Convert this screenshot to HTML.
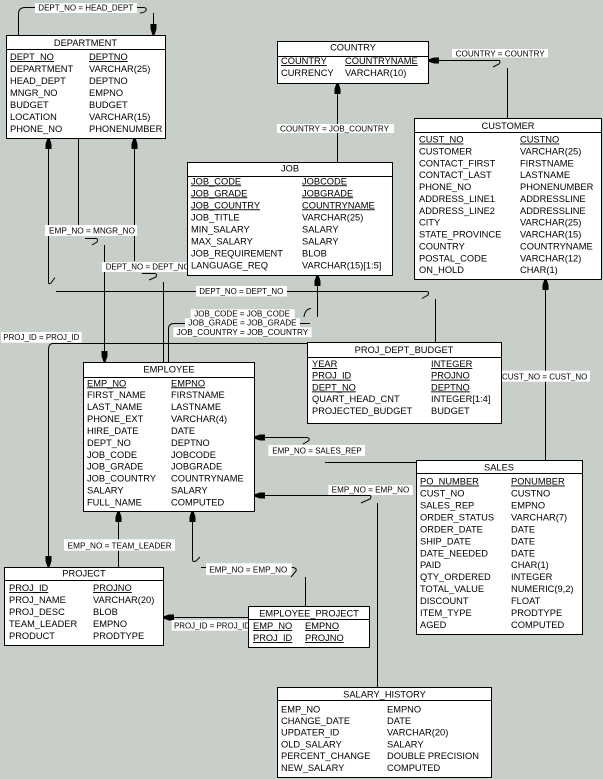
<!DOCTYPE html>
<html>
<head>
<meta charset="utf-8">
<style>
html,body{margin:0;padding:0;background:#c8cec8;}
svg{display:block;}
.t{font-family:"Liberation Sans",Arial,sans-serif;font-size:9.3px;fill:#000;}
.u{text-decoration:underline;}
.l{font-family:"Liberation Sans",Arial,sans-serif;font-size:8px;fill:#000;}
.ln{fill:none;stroke:#000;stroke-width:1;}
.bx{fill:#fff;stroke:#000;stroke-width:1;}
</style>
</head>
<body>
<svg width="603" height="779" viewBox="0 0 603 779" xmlns="http://www.w3.org/2000/svg">
<rect x="0" y="0" width="603" height="779" fill="#c8cec8"/>

<!-- connectors -->
<g class="ln">
<path d="M18.5,35 V14 Q18.5,7.5 25,7.5 H36"/>
<path d="M137,7.5 H144 Q147,8 146,10.5 Q144,13 140,13"/>
<path d="M153.5,13 V35"/>
<path d="M78.5,138 V226"/>
<path d="M85,238.5 H96 Q98.5,239 97,242 L92,245"/>
<path d="M104.5,245 V362"/>
<path d="M134.5,138 V261"/>
<path d="M142,273.5 H155 Q157.5,274 156,277 L149,280"/>
<path d="M163.5,282 V362"/>
<path d="M48.5,138 V282 Q48.5,285 51,283 L55,277.5"/>
<path d="M56,291.5 H427 Q429.5,292 428,295 L422,298.5"/>
<path d="M435.5,299 V342"/>
<path d="M337.5,83 V162"/>
<path d="M428,60.5 H499 Q501,61 499,64 L493,67"/>
<path d="M507.5,68 V118"/>
<path d="M317.5,275 V317"/>
<path d="M304,317 Q305,309 311,308.5"/>
<path d="M300,323.5 H310"/>
<path d="M185,323.5 H174 Q168.5,323.5 168.5,329 V362"/>
<path d="M545.5,279 V460"/>
<path d="M254,437.5 H307 Q310,438 309,440.5 L303,444"/>
<path d="M325,462.5 H416"/>
<path d="M254,495.5 H370 Q372,496 370,499 L361,503"/>
<path d="M377.5,503 V687"/>
<path d="M118.5,511 V567"/>
<path d="M192.5,511 V560 Q193,562.5 196,561 L200,557"/>
<path d="M201,567.5 H293 Q297,568 296,571 L291,577"/>
<path d="M305.5,577 V606"/>
<path d="M52,343.5 H307"/>
<path d="M53,343.5 Q48.5,343.5 48.5,350 V567"/>
<path d="M163,617.5 H248"/>
</g>

<!-- arrowheads -->
<g fill="#000">
<polygon points="150.5,24 156.5,24 156.5,29 154.5,35 152.5,35 150.5,29"/>
<polygon points="45.5,149 51.5,149 51.5,144 49.5,138 47.5,138 45.5,144"/>
<polygon points="131.5,149 137.5,149 137.5,144 135.5,138 133.5,138 131.5,144"/>
<polygon points="334.5,94 340.5,94 340.5,89 338.5,83 336.5,83 334.5,89"/>
<polygon points="439,57.5 439,63.5 434,63.5 428,61.5 428,59.5 434,57.5"/>
<polygon points="314.5,286 320.5,286 320.5,281 318.5,275 316.5,275 314.5,281"/>
<polygon points="542.5,290 548.5,290 548.5,285 546.5,279 544.5,279 542.5,285"/>
<polygon points="101.5,351 107.5,351 107.5,356 105.5,362 103.5,362 101.5,356"/>
<polygon points="265,434.5 265,440.5 260,440.5 254,438.5 254,436.5 260,434.5"/>
<polygon points="265,492.5 265,498.5 260,498.5 254,496.5 254,494.5 260,492.5"/>
<polygon points="115.5,522 121.5,522 121.5,517 119.5,511 117.5,511 115.5,517"/>
<polygon points="189.5,522 195.5,522 195.5,517 193.5,511 191.5,511 189.5,517"/>
<polygon points="45.5,556 51.5,556 51.5,561 49.5,567 47.5,567 45.5,561"/>
<polygon points="174,614.5 174,620.5 169,620.5 163,618.5 163,616.5 169,614.5"/>
</g>

<!-- labels -->
<g>
<rect x="35" y="3" width="102" height="10" fill="#fff"/>
<text class="l" x="38.3" y="10.5" textLength="95" lengthAdjust="spacingAndGlyphs">DEPT_NO = HEAD_DEPT</text>
<rect x="452" y="49" width="96" height="8.5" fill="#fff"/>
<text class="l" x="455.7" y="56.3" textLength="89" lengthAdjust="spacingAndGlyphs">COUNTRY = COUNTRY</text>
<rect x="277" y="124" width="117" height="9" fill="#fff"/>
<text class="l" x="280" y="131.3" textLength="109" lengthAdjust="spacingAndGlyphs">COUNTRY = JOB_COUNTRY</text>
<rect x="45" y="225" width="92" height="11" fill="#fff"/>
<text class="l" x="49" y="233.5" textLength="86" lengthAdjust="spacingAndGlyphs">EMP_NO = MNGR_NO</text>
<rect x="102" y="262" width="86" height="10" fill="#fff"/>
<text class="l" x="105.7" y="269.5" textLength="84" lengthAdjust="spacingAndGlyphs">DEPT_NO = DEPT_NO</text>
<rect x="196" y="286" width="91" height="10.5" fill="#fff"/>
<text class="l" x="199.3" y="294" textLength="84" lengthAdjust="spacingAndGlyphs">DEPT_NO = DEPT_NO</text>
<rect x="190.7" y="309.3" width="104" height="9" fill="#fff"/>
<text class="l" x="194.3" y="316.7" textLength="95.7" lengthAdjust="spacingAndGlyphs">JOB_CODE = JOB_CODE</text>
<rect x="185" y="318.3" width="115" height="9" fill="#fff"/>
<text class="l" x="188.3" y="325.7" textLength="108.3" lengthAdjust="spacingAndGlyphs">JOB_GRADE = JOB_GRADE</text>
<rect x="173.3" y="327.3" width="138.4" height="10" fill="#fff"/>
<text class="l" x="176.7" y="335" textLength="131.6" lengthAdjust="spacingAndGlyphs">JOB_COUNTRY = JOB_COUNTRY</text>
<rect x="1" y="332" width="80.7" height="10.7" fill="#fff"/>
<text class="l" x="3.3" y="340" textLength="76" lengthAdjust="spacingAndGlyphs">PROJ_ID = PROJ_ID</text>
<rect x="501" y="370.7" width="89" height="11" fill="#fff"/>
<text class="l" x="502" y="379.3" textLength="85.3" lengthAdjust="spacingAndGlyphs">CUST_NO = CUST_NO</text>
<rect x="268.3" y="445" width="96.7" height="11" fill="#fff"/>
<text class="l" x="272.3" y="453.3" textLength="89.4" lengthAdjust="spacingAndGlyphs">EMP_NO = SALES_REP</text>
<rect x="328.3" y="485" width="84.4" height="10" fill="#fff"/>
<text class="l" x="331.7" y="492.7" textLength="77.6" lengthAdjust="spacingAndGlyphs">EMP_NO = EMP_NO</text>
<rect x="64" y="539.3" width="111" height="11.4" fill="#fff"/>
<text class="l" x="67.7" y="548.3" textLength="104" lengthAdjust="spacingAndGlyphs">EMP_NO = TEAM_LEADER</text>
<rect x="206" y="563.3" width="85.7" height="11.7" fill="#fff"/>
<text class="l" x="209.3" y="572.7" textLength="78" lengthAdjust="spacingAndGlyphs">EMP_NO = EMP_NO</text>
<rect x="171.7" y="620" width="77.6" height="10.7" fill="#fff"/>
<text class="l" x="174" y="628.3" textLength="76" lengthAdjust="spacingAndGlyphs">PROJ_ID = PROJ_ID</text>
</g>

<!-- DEPARTMENT -->
<rect class="bx" x="6.5" y="35.5" width="159" height="103"/>
<line class="ln" x1="6.5" y1="49.5" x2="165.5" y2="49.5"/>
<text class="t" x="85.5" y="46" text-anchor="middle">DEPARTMENT</text>
<text class="t u" x="10" y="60">DEPT_NO</text><text class="t u" x="89" y="60">DEPTNO</text>
<text class="t" x="10" y="72">DEPARTMENT</text><text class="t" x="89" y="72">VARCHAR(25)</text>
<text class="t" x="10" y="84">HEAD_DEPT</text><text class="t" x="89" y="84">DEPTNO</text>
<text class="t" x="10" y="96">MNGR_NO</text><text class="t" x="89" y="96">EMPNO</text>
<text class="t" x="10" y="108">BUDGET</text><text class="t" x="89" y="108">BUDGET</text>
<text class="t" x="10" y="120">LOCATION</text><text class="t" x="89" y="120">VARCHAR(15)</text>
<text class="t" x="10" y="132">PHONE_NO</text><text class="t" x="89" y="132">PHONENUMBER</text>

<!-- COUNTRY -->
<rect class="bx" x="277.5" y="41.5" width="151" height="42"/>
<line class="ln" x1="277.5" y1="56.5" x2="428.5" y2="56.5"/>
<text class="t" x="353" y="50.5" text-anchor="middle">COUNTRY</text>
<text class="t u" x="281" y="64">COUNTRY</text><text class="t u" x="345" y="64">COUNTRYNAME</text>
<text class="t" x="281" y="76">CURRENCY</text><text class="t" x="345" y="76">VARCHAR(10)</text>

<!-- JOB -->
<rect class="bx" x="187.5" y="162.5" width="205" height="113"/>
<line class="ln" x1="187.5" y1="176.5" x2="392.5" y2="176.5"/>
<text class="t" x="290" y="171.5" text-anchor="middle">JOB</text>
<text class="t u" x="191" y="184.3">JOB_CODE</text><text class="t u" x="302" y="184.3">JOBCODE</text>
<text class="t u" x="191" y="196.3">JOB_GRADE</text><text class="t u" x="302" y="196.3">JOBGRADE</text>
<text class="t u" x="191" y="208.3">JOB_COUNTRY</text><text class="t u" x="302" y="208.3">COUNTRYNAME</text>
<text class="t" x="191" y="220.3">JOB_TITLE</text><text class="t" x="302" y="220.3">VARCHAR(25)</text>
<text class="t" x="191" y="232.3">MIN_SALARY</text><text class="t" x="302" y="232.3">SALARY</text>
<text class="t" x="191" y="244.3">MAX_SALARY</text><text class="t" x="302" y="244.3">SALARY</text>
<text class="t" x="191" y="256.3">JOB_REQUIREMENT</text><text class="t" x="302" y="256.3">BLOB</text>
<text class="t" x="191" y="268.3">LANGUAGE_REQ</text><text class="t" x="302" y="268.3">VARCHAR(15)[1:5]</text>

<!-- CUSTOMER -->
<rect class="bx" x="414.5" y="118.5" width="187" height="161"/>
<line class="ln" x1="414.5" y1="132.5" x2="601.5" y2="132.5"/>
<text class="t" x="508" y="129" text-anchor="middle">CUSTOMER</text>
<text class="t u" x="419" y="142.5">CUST_NO</text><text class="t u" x="520" y="142.5">CUSTNO</text>
<text class="t" x="419" y="154.4">CUSTOMER</text><text class="t" x="520" y="154.4">VARCHAR(25)</text>
<text class="t" x="419" y="166.3">CONTACT_FIRST</text><text class="t" x="520" y="166.3">FIRSTNAME</text>
<text class="t" x="419" y="178.1">CONTACT_LAST</text><text class="t" x="520" y="178.1">LASTNAME</text>
<text class="t" x="419" y="190">PHONE_NO</text><text class="t" x="520" y="190">PHONENUMBER</text>
<text class="t" x="419" y="201.9">ADDRESS_LINE1</text><text class="t" x="520" y="201.9">ADDRESSLINE</text>
<text class="t" x="419" y="213.8">ADDRESS_LINE2</text><text class="t" x="520" y="213.8">ADDRESSLINE</text>
<text class="t" x="419" y="225.7">CITY</text><text class="t" x="520" y="225.7">VARCHAR(25)</text>
<text class="t" x="419" y="237.5">STATE_PROVINCE</text><text class="t" x="520" y="237.5">VARCHAR(15)</text>
<text class="t" x="419" y="249.4">COUNTRY</text><text class="t" x="520" y="249.4">COUNTRYNAME</text>
<text class="t" x="419" y="261.3">POSTAL_CODE</text><text class="t" x="520" y="261.3">VARCHAR(12)</text>
<text class="t" x="419" y="273.2">ON_HOLD</text><text class="t" x="520" y="273.2">CHAR(1)</text>

<!-- PROJ_DEPT_BUDGET -->
<rect class="bx" x="307.5" y="342.5" width="194" height="81"/>
<line class="ln" x1="307.5" y1="357.5" x2="501.5" y2="357.5"/>
<text class="t" x="404" y="353" text-anchor="middle">PROJ_DEPT_BUDGET</text>
<text class="t u" x="312" y="367">YEAR</text><text class="t u" x="431" y="367">INTEGER</text>
<text class="t u" x="312" y="378.7">PROJ_ID</text><text class="t u" x="431" y="378.7">PROJNO</text>
<text class="t u" x="312" y="390.4">DEPT_NO</text><text class="t u" x="431" y="390.4">DEPTNO</text>
<text class="t" x="312" y="402.1">QUART_HEAD_CNT</text><text class="t" x="431" y="402.1">INTEGER[1:4]</text>
<text class="t" x="312" y="413.8">PROJECTED_BUDGET</text><text class="t" x="431" y="413.8">BUDGET</text>

<!-- EMPLOYEE -->
<rect class="bx" x="83.5" y="362.5" width="171" height="149"/>
<line class="ln" x1="83.5" y1="377.5" x2="254.5" y2="377.5"/>
<text class="t" x="169" y="372.3" text-anchor="middle">EMPLOYEE</text>
<text class="t u" x="87" y="386.3">EMP_NO</text><text class="t u" x="171" y="386.3">EMPNO</text>
<text class="t" x="87" y="398.2">FIRST_NAME</text><text class="t" x="171" y="398.2">FIRSTNAME</text>
<text class="t" x="87" y="410.1">LAST_NAME</text><text class="t" x="171" y="410.1">LASTNAME</text>
<text class="t" x="87" y="422.1">PHONE_EXT</text><text class="t" x="171" y="422.1">VARCHAR(4)</text>
<text class="t" x="87" y="434">HIRE_DATE</text><text class="t" x="171" y="434">DATE</text>
<text class="t" x="87" y="445.9">DEPT_NO</text><text class="t" x="171" y="445.9">DEPTNO</text>
<text class="t" x="87" y="457.8">JOB_CODE</text><text class="t" x="171" y="457.8">JOBCODE</text>
<text class="t" x="87" y="469.7">JOB_GRADE</text><text class="t" x="171" y="469.7">JOBGRADE</text>
<text class="t" x="87" y="481.7">JOB_COUNTRY</text><text class="t" x="171" y="481.7">COUNTRYNAME</text>
<text class="t" x="87" y="493.6">SALARY</text><text class="t" x="171" y="493.6">SALARY</text>
<text class="t" x="87" y="505.5">FULL_NAME</text><text class="t" x="171" y="505.5">COMPUTED</text>

<!-- SALES -->
<rect class="bx" x="416.5" y="460.5" width="166" height="174"/>
<line class="ln" x1="416.5" y1="473.5" x2="582.5" y2="473.5"/>
<text class="t" x="499" y="470.5" text-anchor="middle">SALES</text>
<text class="t u" x="420" y="484.5">PO_NUMBER</text><text class="t u" x="511" y="484.5">PONUMBER</text>
<text class="t" x="420" y="496.5">CUST_NO</text><text class="t" x="511" y="496.5">CUSTNO</text>
<text class="t" x="420" y="508.4">SALES_REP</text><text class="t" x="511" y="508.4">EMPNO</text>
<text class="t" x="420" y="520.4">ORDER_STATUS</text><text class="t" x="511" y="520.4">VARCHAR(7)</text>
<text class="t" x="420" y="532.3">ORDER_DATE</text><text class="t" x="511" y="532.3">DATE</text>
<text class="t" x="420" y="544.3">SHIP_DATE</text><text class="t" x="511" y="544.3">DATE</text>
<text class="t" x="420" y="556.3">DATE_NEEDED</text><text class="t" x="511" y="556.3">DATE</text>
<text class="t" x="420" y="568.2">PAID</text><text class="t" x="511" y="568.2">CHAR(1)</text>
<text class="t" x="420" y="580.2">QTY_ORDERED</text><text class="t" x="511" y="580.2">INTEGER</text>
<text class="t" x="420" y="592.1">TOTAL_VALUE</text><text class="t" x="511" y="592.1">NUMERIC(9,2)</text>
<text class="t" x="420" y="604.1">DISCOUNT</text><text class="t" x="511" y="604.1">FLOAT</text>
<text class="t" x="420" y="616">ITEM_TYPE</text><text class="t" x="511" y="616">PRODTYPE</text>
<text class="t" x="420" y="628">AGED</text><text class="t" x="511" y="628">COMPUTED</text>

<!-- PROJECT -->
<rect class="bx" x="4.5" y="567.5" width="159" height="78"/>
<line class="ln" x1="4.5" y1="580.5" x2="163.5" y2="580.5"/>
<text class="t" x="84" y="576.7" text-anchor="middle">PROJECT</text>
<text class="t u" x="9" y="591">PROJ_ID</text><text class="t u" x="93" y="591">PROJNO</text>
<text class="t" x="9" y="603">PROJ_NAME</text><text class="t" x="93" y="603">VARCHAR(20)</text>
<text class="t" x="9" y="615">PROJ_DESC</text><text class="t" x="93" y="615">BLOB</text>
<text class="t" x="9" y="627">TEAM_LEADER</text><text class="t" x="93" y="627">EMPNO</text>
<text class="t" x="9" y="639">PRODUCT</text><text class="t" x="93" y="639">PRODTYPE</text>

<!-- EMPLOYEE_PROJECT -->
<rect class="bx" x="248.5" y="606.5" width="121" height="41"/>
<line class="ln" x1="248.5" y1="619.5" x2="369.5" y2="619.5"/>
<text class="t" x="309" y="616.5" text-anchor="middle">EMPLOYEE_PROJECT</text>
<text class="t u" x="253" y="629">EMP_NO</text><text class="t u" x="305" y="629">EMPNO</text>
<text class="t u" x="253" y="641">PROJ_ID</text><text class="t u" x="305" y="641">PROJNO</text>

<!-- SALARY_HISTORY -->
<rect class="bx" x="277.5" y="687.5" width="214" height="90"/>
<line class="ln" x1="277.5" y1="700.5" x2="491.5" y2="700.5"/>
<text class="t" x="384.5" y="697.3" text-anchor="middle">SALARY_HISTORY</text>
<text class="t" x="281" y="712.3">EMP_NO</text><text class="t" x="387" y="712.3">EMPNO</text>
<text class="t" x="281" y="724">CHANGE_DATE</text><text class="t" x="387" y="724">DATE</text>
<text class="t" x="281" y="735.7">UPDATER_ID</text><text class="t" x="387" y="735.7">VARCHAR(20)</text>
<text class="t" x="281" y="747.4">OLD_SALARY</text><text class="t" x="387" y="747.4">SALARY</text>
<text class="t" x="281" y="759.1">PERCENT_CHANGE</text><text class="t" x="387" y="759.1">DOUBLE PRECISION</text>
<text class="t" x="281" y="770.8">NEW_SALARY</text><text class="t" x="387" y="770.8">COMPUTED</text>
</svg>
</body>
</html>
